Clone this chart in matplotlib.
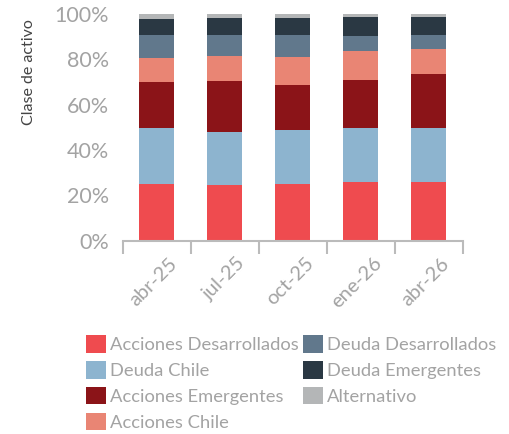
import matplotlib
matplotlib.use("Agg")
import matplotlib.pyplot as plt
import matplotlib.transforms as mtransforms
from matplotlib.ticker import FixedLocator, PercentFormatter
import numpy as np

categories = ["abr-25", "jul-25", "oct-25", "ene-26", "abr-26"]
series_names = ["Acciones Desarrollados", "Deuda Chile", "Acciones Emergentes",
                "Acciones Chile", "Deuda Desarrollados", "Deuda Emergentes", "Alternativo"]
acciones_desarrollados = [25.0, 24.6, 25.0, 25.9, 25.9]
deuda_chile = [24.7, 23.3, 23.8, 23.8, 23.8]
acciones_emergentes = [20.3, 22.5, 19.9, 21.2, 23.8]
acciones_chile = [10.6, 11.1, 12.3, 12.8, 11.1]
deuda_desarrollados = [10.1, 9.2, 9.7, 6.6, 6.1]
deuda_emergentes = [7.1, 7.5, 7.5, 8.4, 8.0]
alternativo = [2.2, 1.8, 1.8, 1.3, 1.3]

colors = ["#EF4B4F", "#8DB4CF", "#8B1418", "#E98574", "#61788C", "#2A3843", "#B4B6B7"]

plt.rcParams['font.family'] = ['Lato', 'DejaVu Sans']
TXT = "#A3A3A3"

fig = plt.figure(figsize=(5.09, 4.34), dpi=100)
ax = fig.add_axes([0.241, 0.4454, 0.668, 0.5223])

data = [acciones_desarrollados, deuda_chile, acciones_emergentes, acciones_chile,
        deuda_desarrollados, deuda_emergentes, alternativo]
x = np.arange(len(categories))
bottom = np.zeros(len(categories))
handles = []
for name, vals, c in zip(series_names, data, colors):
    vals = np.array(vals)
    b = ax.bar(x, vals, width=0.51, bottom=bottom, color=c, label=name, linewidth=0)
    handles.append(b)
    bottom += vals

ax.set_xlim(-0.5, len(categories) - 0.5)
ax.set_ylim(0, 100)
ax.yaxis.set_major_locator(FixedLocator([0, 20, 40, 60, 80, 100]))
ax.yaxis.set_major_formatter(PercentFormatter(decimals=0))
for s in ["top", "right", "left"]:
    ax.spines[s].set_visible(False)
ax.spines["bottom"].set_color("#BBBBBB")
ax.spines["bottom"].set_linewidth(1.5)
ax.tick_params(axis="y", length=0, pad=10, labelsize=15.5, labelcolor=TXT)

ax.set_xticks(x)
ax.set_xticklabels(categories, rotation=45, ha="right", rotation_mode="anchor",
                   fontsize=14.5, color=TXT)
ax.tick_params(axis="x", which="major", length=0, pad=10)
ax.set_xticks(np.arange(-0.5, len(categories)), minor=True)
ax.tick_params(axis="x", which="minor", length=9.5, width=1.5, color="#BBBBBB")
offset = mtransforms.ScaledTranslation(12 / 100, 0, fig.dpi_scale_trans)
for t in ax.get_xticklabels():
    t.set_transform(t.get_transform() + offset)

ax.set_ylabel("Clase de activo", fontsize=11.5, color="#444444")
ax.yaxis.set_label_coords(-0.255, 0.745)

leg = fig.legend(handles=handles, labels=series_names, ncol=2, loc="upper left",
                 frameon=False,
                 handlelength=1.1, handleheight=1.1, handletextpad=0.25,
                 columnspacing=0.2, labelspacing=0.43, borderaxespad=0, borderpad=0,
                 labelcolor=TXT, prop={"size": 13.2})
leg.set_bbox_to_anchor((0.168, 0.228), transform=fig.transFigure)

fig.savefig("out.png", dpi=100)
